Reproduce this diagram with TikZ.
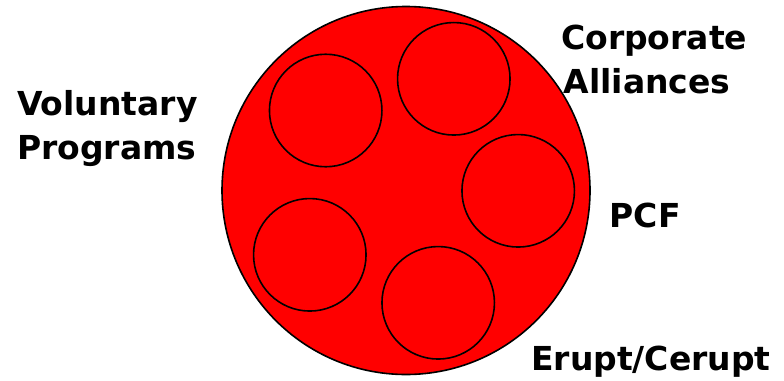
\documentclass[tikz,border=0pt]{standalone}
\usepackage{fontspec}
\setmainfont{DejaVu Sans}
\begin{document}
\begin{tikzpicture}[x=1pt,y=-1pt,
  outer/.style={circle,draw=black,fill=red,line width=1.6pt,minimum size=368pt,inner sep=0pt},
  inner/.style={circle,draw=black,line width=1.6pt,minimum size=112.5pt,inner sep=0pt},
  lbl/.style={anchor=base west,inner sep=0pt,font=\fontsize{33pt}{33pt}\selectfont\bfseries}]
\useasboundingbox (0,0) rectangle (784,380);
\node[outer] (big) at (406,190.5) {};
\node[inner] (c1) at (325.7,110.5) {};
\node[inner] (c2) at (453.8,78.8) {};
\node[inner] (c3) at (518.2,190.8) {};
\node[inner] (c4) at (309.8,254.8) {};
\node[inner] (c5) at (438.2,302.8) {};
\node[lbl] (vol1) at (17,115) {Voluntary};
\node[lbl] (vol2) at (17,159.3) {Programs};
\node[lbl] (cor1) at (561,49.3) {Corporate};
\node[lbl] (cor2) at (563.5,93.3) {Alliances};
\node[lbl] (pcf) at (609.5,227.3) {PCF};
\node[lbl] (eru) at (531,370.7) {Erupt/Cerupt};
\end{tikzpicture}
\end{document}
